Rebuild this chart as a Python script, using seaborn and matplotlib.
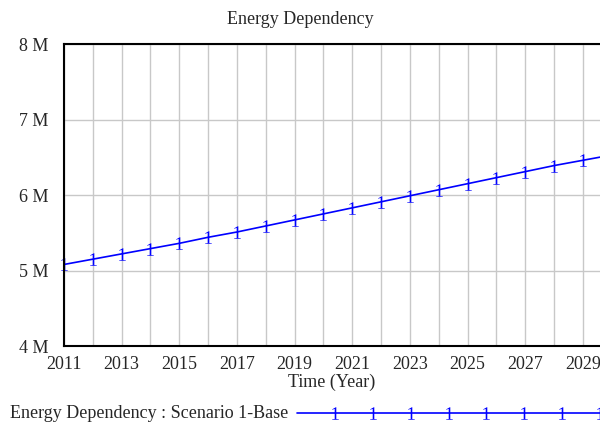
import numpy as np
import pandas as pd
import matplotlib
matplotlib.use('Agg')
import matplotlib.pyplot as plt
import seaborn as sns
from matplotlib.ticker import FuncFormatter, MultipleLocator, FixedLocator

# --- Dados
anos = [2011, 2012, 2013, 2014, 2015, 2016, 2017, 2018, 2019, 2020,
        2021, 2022, 2023, 2024, 2025, 2026, 2027, 2028, 2029, 2030]
dependencia = [5.08, 5.15, 5.22, 5.29, 5.36, 5.44, 5.51, 5.59, 5.67, 5.75,
               5.83, 5.91, 5.99, 6.07, 6.15, 6.23, 6.31, 6.39, 6.46, 6.53]
dependencia = [v * 1e6 for v in dependencia]
anos_rotulo = [2011, 2013, 2015, 2017, 2019, 2021, 2023, 2025, 2027, 2029]
serie = 'Energy Dependency : Scenario 1-Base'

dados = pd.DataFrame({'ano': anos, 'valor': dependencia})

# --- Estilo
sns.set_style('white')
plt.rcParams['font.family'] = ['Liberation Serif', 'DejaVu Serif']
plt.rcParams['mathtext.default'] = 'regular'
FS = 13
AZUL = '#0000ff'
estilo_marca = dict(marker='$1$', markersize=9, markeredgewidth=0,
                    markeredgecolor=AZUL, markerfacecolor=AZUL)

fig = plt.figure(figsize=(6, 4.23), dpi=100)
ax = fig.add_axes([64 / 600, 1 - 346 / 423, 1 - 64 / 600, (346 - 44) / 423])

sns.lineplot(data=dados, x='ano', y='valor', ax=ax, color=AZUL,
             linewidth=1.2, clip_on=False, **estilo_marca)

ax.set_xlim(2011, 2029.59)
ax.set_ylim(4e6, 8e6)
ax.xaxis.set_major_locator(FixedLocator(anos_rotulo))
ax.xaxis.set_minor_locator(MultipleLocator(1))
ax.yaxis.set_major_locator(MultipleLocator(1e6))
ax.yaxis.set_major_formatter(FuncFormatter(lambda v, p: f'{v / 1e6:.0f} M'))
ax.grid(True, which='both', axis='x', color='#c8c8c8', linewidth=1)
ax.grid(True, which='major', axis='y', color='#c8c8c8', linewidth=1)
ax.set_axisbelow(True)
ax.tick_params(axis='y', which='both', length=0, labelsize=FS, pad=11)
ax.tick_params(axis='x', which='both', length=0, labelsize=FS, pad=7)

for lado in ['left', 'top', 'bottom']:
    ax.spines[lado].set_color('black')
    ax.spines[lado].set_linewidth(1.5)
ax.spines['right'].set_visible(False)

ax.set_xlabel('Time (Year)', fontsize=FS, labelpad=1)
ax.set_ylabel('')
fig.text(0.5, 1 - 20 / 423, 'Energy Dependency', ha='center', va='center', fontsize=FS)

# --- Legenda no rodapé
y_leg = 413
fig.text(10 / 600, 1 - y_leg / 423, serie, ha='left', va='center', fontsize=FS)
lax = fig.add_axes([297 / 600, 1 - (y_leg + 10) / 423, 1 - 297 / 600, 20 / 423])
lax.set_xlim(0, 8)
lax.set_ylim(-1, 1)
lax.axis('off')
lax.plot(np.arange(9), np.zeros(9), color=AZUL, linewidth=1.2,
         markevery=list(range(1, 9)), clip_on=False, **estilo_marca)

fig.savefig('out.png', dpi=100)
